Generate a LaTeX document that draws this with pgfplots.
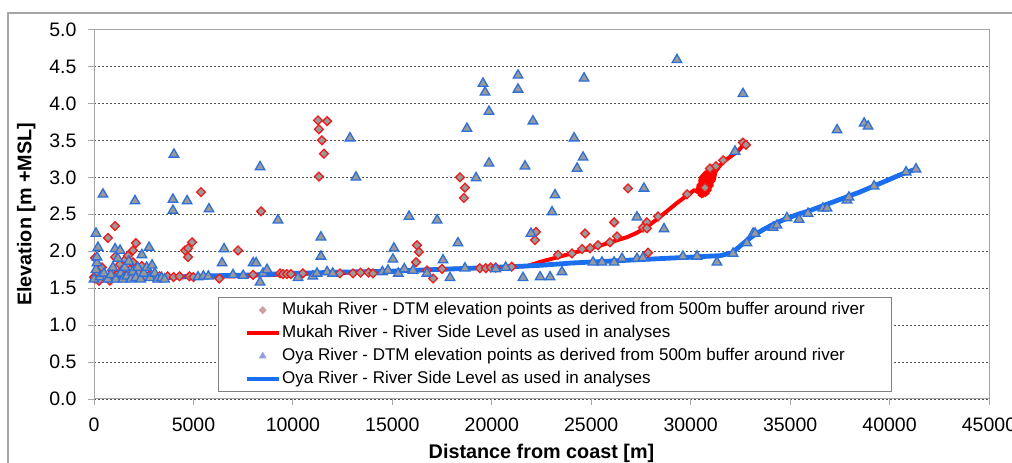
\documentclass[border=0pt]{standalone}
\usepackage{fontspec}
\setmainfont{Liberation Sans}
\usepackage{pgfplots}
\pgfplotsset{compat=1.18}

\definecolor{mkred}{HTML}{EE1C1C}
\definecolor{linered}{HTML}{FF0000}
\definecolor{oyblue}{HTML}{2E6FDA}
\definecolor{lineblue}{HTML}{1A6EF0}
\definecolor{ptfill}{HTML}{9A9A9A}
\definecolor{framegray}{HTML}{A6A6A6}
\definecolor{gridgray}{HTML}{505050}

\pgfplotsset{
  mukahpts/.style={only marks, mark=square*, mark size=3.1pt,
    mark options={rotate=45, fill=ptfill, draw=mkred, line width=1.3pt}},
  oyapts/.style={only marks, mark=triangle*, mark size=5.5pt,
    mark options={fill=ptfill, draw=oyblue, line width=1.3pt}},
  mukahline/.style={no marks, draw=linered, line width=4pt, line join=round},
  oyaline/.style={no marks, draw=lineblue, line width=4.8pt, line join=round},
}

\begin{document}
\begin{tikzpicture}[x=1pt,y=1pt]
\useasboundingbox (0,0) rectangle (1012,463);
% outer chart frame
\draw[framegray, line width=1.2pt] (8,-5) -- (8,450) -- (1020,450);

\begin{axis}[
  at={(94pt,64pt)}, anchor=south west,
  scale only axis, width=895pt, height=369.5pt,
  xmin=0, xmax=45000, ymin=0, ymax=5,
  xtick={0,5000,...,45000}, ytick={0,0.5,...,5},
  scaled x ticks=false,
  xticklabel style={/pgf/number format/1000 sep={}, yshift=-9pt},
  yticklabel style={/pgf/number format/fixed, /pgf/number format/precision=1,
    /pgf/number format/fixed zerofill, xshift=-8pt},
  /pgf/number format/assume math mode=true,
  ticklabel style={font=\fontsize{19.5}{20}\selectfont},
  tick pos=left, tick align=outside, major tick length=6pt,
  tick style={framegray, line width=0.8pt},
  axis line style={framegray, line width=1pt},
  ymajorgrids,
  major grid style={gridgray, line width=0.7pt, dash pattern=on 2pt off 2pt},
  xlabel={\bfseries Distance from coast [m]},
  ylabel={\bfseries Elevation [m +MSL]},
  xlabel style={yshift=-6pt},
  ylabel style={yshift=7pt},
  label style={font=\fontsize{19.8}{22}\selectfont},
  legend image code/.code={\draw[mark repeat=2,mark phase=2,#1]
    plot coordinates {(0pt,0pt) (16pt,0pt) (32pt,0pt)};},
  legend style={at={(0.1385,0.019)}, anchor=south west, draw=gray,
    line width=0.8pt, fill=white, inner xsep=26pt, inner ysep=1pt,
    font=\fontsize{17}{20}\selectfont,
    nodes={text height=12.4pt, text depth=3.6pt, inner ysep=3.5pt, inner xsep=1pt},
    /tikz/every even column/.append style={column sep=0pt}},
  legend cell align=left,
]

\addlegendimage{only marks, mark=square*, mark size=2.5pt,
  mark options={rotate=45, fill=ptfill!80!red!70!white, draw=ptfill!60!red!60!white, line width=0.6pt}}
\addlegendentry{Mukah River - DTM elevation points as derived from 500m buffer around river}
\addlegendimage{mukahline}
\addlegendentry{Mukah River - River Side Level as used in analyses}
\addlegendimage{only marks, mark=triangle*, mark size=3.8pt,
  mark options={fill=ptfill!60!blue!60!white, draw=oyblue!60!white, line width=0.6pt}}
\addlegendentry{Oya River - DTM elevation points as derived from 500m buffer around river}
\addlegendimage{oyaline}
\addlegendentry{Oya River - River Side Level as used in analyses}

% Mukah River side level
\addplot[mukahline, forget plot] table {
x y
0 1.60
500 1.62
1500 1.63
3000 1.64
5000 1.65
7000 1.66
9000 1.68
11000 1.70
13000 1.71
15000 1.73
17000 1.75
19000 1.77
20500 1.78
21800 1.80
22500 1.86
23200 1.91
24000 1.97
24700 2.02
25500 2.08
26200 2.14
26800 2.19
27300 2.25
27800 2.33
28300 2.43
28800 2.54
29300 2.65
29800 2.75
30200 2.83
30350 2.80
30400 2.90
30450 2.76
30500 3.00
30550 2.74
30600 3.03
30650 2.75
30700 3.06
30750 2.76
30800 3.08
30850 2.78
30900 3.09
30950 2.82
31000 3.10
31050 2.88
31100 3.10
31150 2.95
31250 3.08
31600 3.20
32000 3.28
32400 3.36
32750 3.47
};

% Oya River side level
\addplot[oyaline, forget plot] table {
x y
0 1.60
1000 1.62
3000 1.64
5000 1.66
8000 1.68
10000 1.70
13000 1.72
15000 1.73
17000 1.75
19000 1.77
21000 1.79
22500 1.81
24000 1.84
25500 1.86
27000 1.88
28500 1.90
30000 1.92
31500 1.94
32100 1.98
32400 2.05
32800 2.14
33200 2.22
33700 2.30
34200 2.37
34800 2.44
35400 2.50
36000 2.55
36700 2.62
37300 2.68
37900 2.74
38500 2.80
39200 2.88
39900 2.96
40500 3.03
41000 3.08
41400 3.12
};

% Mukah River DTM points
\addplot[mukahpts, forget plot] table {
x y
0 1.65
50 1.91
50 1.63
150 1.72
250 1.60
400 1.78
500 1.66
700 2.18
800 1.60
900 1.74
1060 2.34
1060 1.92
1150 1.68
1300 1.82
1450 1.75
1550 1.88
1710 1.94
1800 1.75
1960 2.01
1960 1.85
2110 2.11
2250 1.70
2400 1.80
2600 1.66
2800 1.68
3000 1.65
3300 1.66
3700 1.66
4000 1.65
4300 1.66
4580 2.01
4730 2.04
4730 1.92
4930 2.12
4800 1.66
5000 1.65
5380 2.80
6300 1.63
7240 2.01
8000 1.68
8400 2.54
9350 1.70
9500 1.69
9700 1.69
9900 1.69
10500 1.70
11260 3.77
11720 3.76
11310 3.65
11460 3.50
11560 3.32
11310 3.01
12370 1.70
13020 1.70
13400 1.71
13800 1.71
14030 1.70
16190 1.85
16240 2.08
16340 1.99
16740 1.74
17050 1.63
17500 1.76
18400 3.00
18650 2.86
18600 2.72
19400 1.77
19700 1.77
19950 1.78
20200 1.78
21000 1.79
22220 2.26
22170 2.15
23330 1.95
24030 1.97
24540 2.03
24690 2.24
24940 2.04
25340 2.08
25940 2.12
26150 2.39
26300 2.20
26850 2.85
27600 2.32
27800 2.39
27800 2.31
27860 1.98
28360 2.47
29820 2.77
30720 2.86
30970 3.12
31270 3.15
31630 3.23
32630 3.47
32780 3.44
};

% Oya River DTM points
\addplot[oyapts, forget plot] table {
x y
0 1.62
100 2.24
100 1.75
150 1.84
150 1.92
200 2.05
300 1.65
450 2.77
500 1.70
700 1.62
850 1.68
950 1.78
1060 2.03
1100 1.62
1200 1.90
1310 2.01
1350 1.70
1450 1.62
1550 1.78
1650 1.66
1750 1.86
1850 1.62
1950 1.72
2060 2.68
2100 1.64
2200 1.78
2350 1.62
2410 1.95
2500 1.70
2650 1.78
2770 2.05
2820 1.64
2920 1.81
3050 1.70
3200 1.62
3400 1.64
3550 1.62
3970 2.70
3970 2.55
4020 3.31
4680 2.68
5230 1.65
5500 1.66
5780 2.57
5750 1.66
6440 1.84
6540 2.03
6990 1.68
7500 1.67
8000 1.84
8150 1.84
8350 3.14
8350 1.58
8500 1.70
8700 1.75
9250 2.42
10260 1.64
11000 1.66
11210 1.70
11410 2.19
11410 1.93
11720 1.72
12000 1.70
12870 3.53
13170 3.00
14500 1.72
14780 1.74
15030 1.89
15080 2.04
15300 1.70
15600 1.76
15840 2.47
16040 1.74
16740 1.70
17250 2.42
17550 1.88
17900 1.64
18300 2.11
18650 1.77
18750 3.66
19210 2.99
19560 4.27
19660 4.15
19860 3.89
19860 3.19
20200 1.76
20700 1.78
21320 4.38
21320 4.19
21570 1.64
21670 3.15
21970 2.24
22070 3.76
22430 1.65
22930 1.65
23030 2.53
23180 2.76
23530 1.72
24140 3.53
24290 3.12
24590 3.27
24640 4.34
25090 1.85
25540 1.85
26150 1.85
26550 1.90
27300 2.46
27300 1.90
27650 2.85
27600 1.91
28660 2.30
29310 4.59
29610 1.93
30320 1.93
31320 1.85
32130 1.97
32230 3.35
32630 4.13
32830 2.11
33140 2.24
33240 2.24
34140 2.32
34340 2.35
34840 2.45
35450 2.43
35900 2.51
36650 2.58
36860 2.58
37360 3.64
37860 2.69
37960 2.73
38720 3.73
38920 3.69
39220 2.88
40830 3.07
41330 3.11
};

\end{axis}
\end{tikzpicture}
\end{document}
